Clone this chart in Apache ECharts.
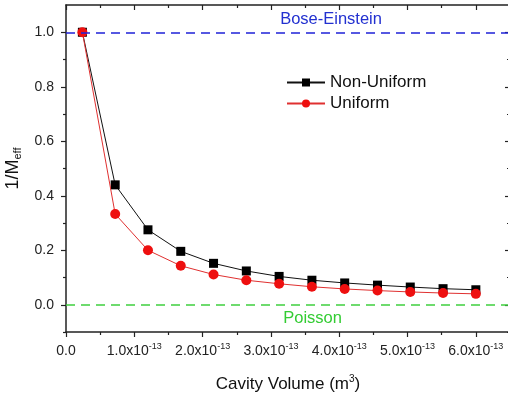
<!DOCTYPE html>
<html>
<head>
<meta charset="utf-8">
<script src="https://cdn.jsdelivr.net/npm/echarts@6/dist/echarts.min.js"></script>
<style>
  html, body { margin: 0; padding: 0; background: #fff; overflow: hidden; }
  #chart { width: 508px; height: 396px; }
</style>
</head>
<body>
<div id="chart"></div>
<script>
// Cavity volume in units of 1e-13 m^3
const volume = [0.24, 0.72, 1.2, 1.68, 2.16, 2.64, 3.12, 3.6, 4.08, 4.56, 5.04, 5.52, 6.0];
// 1/M_eff for the two pump profiles
const nonUniform = [1.0, 0.44, 0.275, 0.196, 0.152, 0.124, 0.104, 0.09, 0.08, 0.072, 0.065, 0.059, 0.055];
const uniform = [1.0, 0.333, 0.2, 0.143, 0.111, 0.09, 0.077, 0.066, 0.058, 0.052, 0.047, 0.043, 0.04];

// Axis ticks
const xMajor = [0, 1, 2, 3, 4, 5, 6];
const xMinor = [0.5, 1.5, 2.5, 3.5, 4.5, 5.5];
const yMajor = [0, 0.2, 0.4, 0.6, 0.8, 1.0];
const yMinor = [-0.1, 0.1, 0.3, 0.5, 0.7, 0.9];

// Limits: Bose-Einstein and Poisson statistics
const boseEinstein = 1.0;
const poisson = 0.0;

const X_MIN = 0, X_MAX = 6.5;
const Y_MIN = -0.1, Y_MAX = 1.1;
const INK = '#222';
const FONT = 'Liberation Sans, Arial, sans-serif';

function pairs(xs, ys) { return xs.map((x, i) => [x, ys[i]]); }

function xAx(opts) {
  return Object.assign({
    type: 'value', min: X_MIN, max: X_MAX, position: 'bottom',
    splitLine: { show: false },
    axisLine: { show: false, onZero: false },
    axisLabel: { show: false },
    axisTick: { show: false }
  }, opts);
}
function yAx(opts) {
  return Object.assign({
    type: 'value', min: Y_MIN, max: Y_MAX, position: 'left',
    splitLine: { show: false },
    axisLine: { show: false, onZero: false },
    axisLabel: { show: false },
    axisTick: { show: false }
  }, opts);
}

const chart = echarts.init(document.getElementById('chart'), null, { renderer: 'canvas' });

chart.setOption({
  animation: false,
  backgroundColor: '#fff',
  textStyle: { fontFamily: FONT },
  grid: { left: 66, right: -2, top: 5, bottom: 64, containLabel: false, outerBoundsMode: 'none' },
  legend: {
    orient: 'vertical', left: 281, top: 69,
    itemWidth: 38, itemHeight: 10, itemGap: 4,
    data: ['Non-Uniform', 'Uniform'],
    textStyle: { fontSize: 17, color: '#111', fontFamily: FONT }
  },
  xAxis: [
    xAx({
      axisLine: { show: true, onZero: false, lineStyle: { color: INK, width: 1.5 } },
      axisTick: { show: true, inside: false, length: 5, customValues: xMajor, lineStyle: { color: INK, width: 1.2 } },
      axisLabel: {
        show: true, customValues: xMajor, margin: 10, color: '#222',
        formatter: v => v === 0 ? '{m|0.0}' : '{m|' + v.toFixed(1) + 'x10}{s|-13}',
        rich: {
          m: { fontSize: 14, fontFamily: FONT, color: '#222', lineHeight: 18 },
          s: { fontSize: 9, fontFamily: FONT, color: '#222', verticalAlign: 'top', lineHeight: 18, padding: [0, 0, 8, 0] }
        }
      },
      name: '{m|Cavity Volume (m}{s|3}{m|)}',
      nameLocation: 'middle', nameGap: 42,
      nameTextStyle: {
        rich: {
          m: { fontSize: 17, fontFamily: FONT, color: '#111', lineHeight: 20 },
          s: { fontSize: 10, fontFamily: FONT, color: '#111', lineHeight: 20, padding: [0, 0, 10, 0] }
        }
      }
    }),
    xAx({ axisTick: { show: true, inside: false, length: 3, customValues: xMinor, lineStyle: { color: INK, width: 1.2 } } }),
    xAx({
      position: 'top',
      axisLine: { show: true, onZero: false, lineStyle: { color: INK, width: 1.5 } },
      axisTick: { show: true, inside: true, length: 5, customValues: xMajor, lineStyle: { color: INK, width: 1.2 } }
    }),
    xAx({ position: 'top', axisTick: { show: true, inside: true, length: 3, customValues: xMinor, lineStyle: { color: INK, width: 1.2 } } })
  ],
  yAxis: [
    yAx({
      axisLine: { show: true, onZero: false, lineStyle: { color: INK, width: 1.5 } },
      axisTick: { show: true, inside: false, length: 5, customValues: yMajor, lineStyle: { color: INK, width: 1.2 } },
      axisLabel: {
        show: true, customValues: yMajor, margin: 12,
        fontSize: 14, color: '#222', fontFamily: FONT,
        formatter: v => v.toFixed(1)
      },
      name: '{m|1/M}{s|eff}',
      nameLocation: 'middle', nameGap: 39, nameRotate: 90,
      nameTextStyle: {
        rich: {
          m: { fontSize: 18, fontFamily: FONT, color: '#111', lineHeight: 22 },
          s: { fontSize: 11, fontFamily: FONT, color: '#111', lineHeight: 22, padding: [10, 0, 0, 0] }
        }
      }
    }),
    yAx({ axisTick: { show: true, inside: false, length: 3, customValues: yMinor, lineStyle: { color: INK, width: 1.2 } } }),
    // right frame edge sits just past the canvas; only its inward ticks show
    yAx({
      position: 'right',
      axisTick: { show: true, inside: true, length: 5, customValues: yMajor, lineStyle: { color: INK, width: 1.2 } }
    }),
    yAx({ position: 'right', axisTick: { show: true, inside: true, length: 3, customValues: yMinor, lineStyle: { color: INK, width: 1.2 } } })
  ],
  series: [
    {
      name: 'limits', type: 'line', data: [], silent: true,
      markLine: {
        silent: true, symbol: 'none', animation: false,
        label: { show: false },
        data: [
          { yAxis: boseEinstein, lineStyle: { color: '#1f22d8', type: [9, 6], width: 1.6 } },
          { yAxis: poisson, lineStyle: { color: '#3fcf3f', type: [9, 6], width: 1.6 } }
        ]
      },
      markPoint: {
        silent: true, symbol: 'rect', symbolSize: 0,
        data: [
          {
            coord: [3.88, 1.047],
            label: { show: true, formatter: 'Bose-Einstein', color: '#2230d0', fontSize: 16.5, fontFamily: FONT, position: 'inside' }
          },
          {
            coord: [3.61, -0.05],
            label: { show: true, formatter: 'Poisson', color: '#33cc33', fontSize: 16.5, fontFamily: FONT, position: 'inside' }
          }
        ]
      }
    },
    {
      name: 'Non-Uniform', type: 'line',
      data: pairs(volume, nonUniform),
      symbol: 'rect', symbolSize: 9,
      lineStyle: { color: '#111', width: 1 },
      itemStyle: { color: '#000' },
      z: 3
    },
    {
      name: 'Uniform', type: 'line',
      data: pairs(volume, uniform),
      symbol: 'circle', symbolSize: 10,
      lineStyle: { color: '#e03030', width: 1 },
      itemStyle: { color: '#ee0f0f' },
      z: 4
    }
  ]
});
</script>
</body>
</html>
